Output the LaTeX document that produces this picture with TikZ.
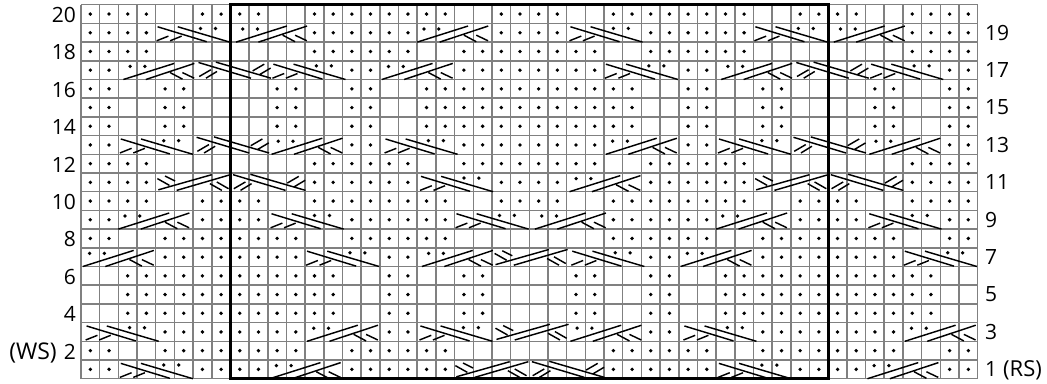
\documentclass[tikz,border=0pt]{standalone}
\usepackage{fontspec}
\setmainfont{Open Sans}
\tikzset{
  gridline/.style={draw=black!50,line width=1.5pt},
  cable/.style={draw=black,line width=1.45pt},
  framebox/.style={draw=black,line width=3.4pt},
  rowlab/.style={inner sep=0pt,font=\fontsize{21}{24}\selectfont,text=black}
}
\newcommand\cw{18.68}
\newcommand\rh{18.7}
\newcommand\kdots[2]{\foreach \r in {#1}{\foreach \a/\b in {#2}{\foreach \c in {\a,...,\b}{%
  \fill[black] ({81+(\c+.5)*\cw},{4.7+(20-\r+.5)*\rh}) circle (1.9pt);}}}}
\newcommand\symb[4]{\begin{scope}[shift={({81+(#2+#4)*\cw},{4.7+(20-#3)*\rh})},x=\cw pt,y=-\rh pt]#1\end{scope}}
\newcommand\dotsR{\fill[black] (2.4,.27) circle (.1) (3.2,.27) circle (.1);}
\newcommand\dotsL{\fill[black] (.36,.3) circle (.1) (1.15,.3) circle (.1);}
% purl-side cables: col, row, shift
\newcommand\cR[3]{\symb{\draw[cable] (.1,.18)--(2.73,.98) (1.18,.18)--(3.96,1) (.05,.93)--(.68,.68) (.77,.93)--(1.39,.68);\dotsR}{#1}{#2}{#3}}
\newcommand\cL[3]{\symb{\draw[cable] (0,1)--(2.72,.14) (1.2,1)--(3.8,.14) (2.5,.63)--(3.16,.98) (3.16,.63)--(3.79,.93);\dotsL}{#1}{#2}{#3}}
% full-stitch cables
\newcommand\cFL[3]{\symb{\draw[cable] (.14,.9)--(3,.09) (1.12,.93)--(4,.09) (.09,.3)--(.73,.66) (.5,.16)--(1.04,.43) (2.9,.57)--(3.54,.93) (3.27,.48)--(3.9,.84);}{#1}{#2}{#3}}
\newcommand\cFR[3]{\symb{\draw[cable] (.14,.09)--(2.95,.93) (1.07,.07)--(4.02,.93) (.18,.84)--(.8,.48) (.54,.93)--(1.13,.57) (3.04,.54)--(3.66,.18) (3.39,.75)--(4,.39);}{#1}{#2}{#3}}
\begin{document}
\begin{tikzpicture}[x=1pt,y=-1pt]
\useasboundingbox (0,0) rectangle (1047,383);
\fill[white] (0,0) rectangle (1047,383);
% grid
\foreach \i in {0,...,48}{\draw[gridline] ({81+\i*\cw},4.7) -- ({81+\i*\cw},{4.7+20*\rh});}
\foreach \j in {0,...,20}{\draw[gridline] (81,{4.7+\j*\rh}) -- ({81+48*\cw},{4.7+\j*\rh});}
% purl dots
\kdots{20,10}{0/3,6/9,12/19,22/25,28/35,38/41,44/47}
\kdots{18,12}{0/3,12/17,20/27,30/35,44/47}
\kdots{16,15,14}{0/1,4/5,10/11,14/15,18/29,32/33,36/37,42/43,46/47}
\kdots{8,2}{0/1,4/11,14/19,28/33,36/43,46/47}
\kdots{6,5,4}{2/13,16/17,20/21,26/27,30/31,34/45}
\kdots{19,11}{0/3,12/17,22/25,30/35,44/47}
\kdots{17,13}{0/1,14/15,20/27,32/33,46/47}
\kdots{9,1}{0/1,6/9,14/19,28/33,38/41,46/47}
\kdots{7,3}{4/11,16/17,30/31,36/43}
% row 19
\cR{4}{19}{0}\cL{8}{19}{.3}\cL{18}{19}{0}\cR{26}{19}{.1}\cR{36}{19}{0}\cL{40}{19}{.3}
% row 17
\cL{2}{17}{.27}\cFR{6}{17}{.15}\cR{10}{17}{.2}\cL{16}{17}{.1}\cR{28}{17}{0}\cL{34}{17}{.27}\cFR{38}{17}{.15}\cR{42}{17}{.2}
% row 13
\cR{2}{13}{.03}\cFR{6}{13}{.05}\cL{10}{13}{.2}\cR{16}{13}{.2}\cL{28}{13}{.1}\cR{34}{13}{.05}\cFR{38}{13}{0}\cL{42}{13}{.2}
% row 11
\cFL{4}{11}{0}\cFR{8}{11}{0}\cR{18}{11}{.1}\cL{26}{11}{.15}\cFL{36}{11}{0}\cFR{40}{11}{0}
% row 9
\cL{2}{9}{0}\cR{10}{9}{.1}\cR{20}{9}{0}\cL{24}{9}{.3}\cL{34}{9}{0}\cR{42}{9}{.1}
% row 7
\cL{0}{7}{.1}\cR{12}{7}{0}\cL{18}{7}{.25}\cFL{22}{7}{.05}\cR{26}{7}{.2}\cL{32}{7}{.1}\cR{44}{7}{0}
% row 3
\cR{0}{3}{.2}\cL{12}{3}{.1}\cR{18}{3}{.07}\cFL{22}{3}{.1}\cL{26}{3}{.2}\cR{32}{3}{.2}\cL{44}{3}{.1}
% row 1
\cR{2}{1}{.03}\cL{10}{1}{.1}\cFL{20}{1}{-.05}\cFR{24}{1}{0}\cR{34}{1}{.05}\cL{42}{1}{.1}
% repeat frame
\draw[framebox] ({81+8*\cw},4.7) rectangle ({81+40*\cw},{4.7+20*\rh});
% row labels
\foreach \n in {20,18,...,4}{
  \node[rowlab,anchor=base east] (l\n) at (76,{4.7+(20-\n+.5)*\rh+8.4}) {\n};}
\node[rowlab,anchor=base east] (l2) at (76,{4.7+18.5*\rh+8.4}) {{\fontsize{23}{24}\selectfont(WS)}\hspace{7pt}2};
\foreach \n in {19,17,...,3}{
  \node[rowlab,anchor=base west] (r\n) at (985,{4.7+(20-\n+.5)*\rh+7.4}) {\n};}
\node[rowlab,anchor=base west] (r1) at (985,{4.7+19.5*\rh+7.4}) {1\hspace{6pt}{\fontsize{22}{24}\selectfont(RS)}};
\end{tikzpicture}
\end{document}
